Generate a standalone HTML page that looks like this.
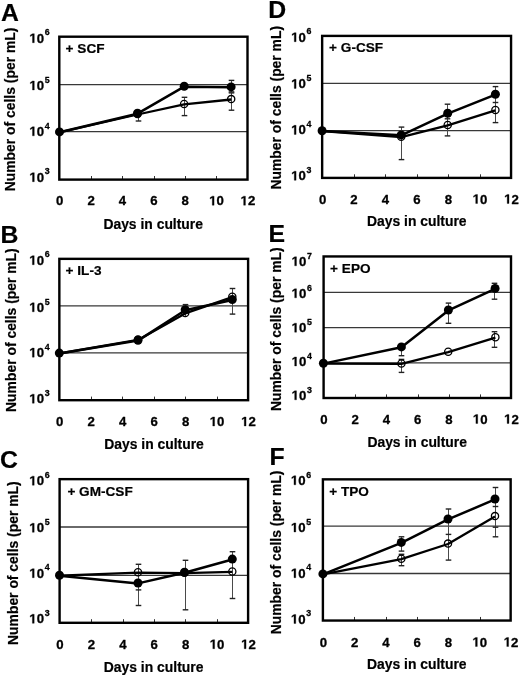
<!DOCTYPE html><html><head><meta charset="utf-8"><style>html,body{margin:0;padding:0;background:#fff;}svg{display:block;filter:grayscale(1) blur(0.4px);} text{stroke:#000;stroke-width:0.2px;stroke-linejoin:round;} text.d{stroke-width:0.3px;}</style></head><body>
<svg width="520" height="676" viewBox="0 0 520 676" font-family='"Liberation Sans", sans-serif' font-weight="bold">
<rect x="0" y="0" width="520" height="676" fill="#fff"/>
<line x1="59.3" y1="84.6" x2="247.5" y2="84.6" stroke="#383838" stroke-width="1.3"/>
<line x1="59.3" y1="131.6" x2="247.5" y2="131.6" stroke="#383838" stroke-width="1.3"/>
<line x1="91.5" y1="179.6" x2="91.5" y2="176" stroke="#333" stroke-width="1"/>
<line x1="122.5" y1="179.6" x2="122.5" y2="176" stroke="#333" stroke-width="1"/>
<line x1="154.5" y1="179.6" x2="154.5" y2="176" stroke="#333" stroke-width="1"/>
<line x1="185.5" y1="179.6" x2="185.5" y2="176" stroke="#333" stroke-width="1"/>
<line x1="216.5" y1="179.6" x2="216.5" y2="176" stroke="#333" stroke-width="1"/>
<line x1="138.5" y1="110.3" x2="138.5" y2="121" stroke="#4a4a4a" stroke-width="1"/>
<line x1="135.7" y1="121" x2="141.3" y2="121" stroke="#222" stroke-width="1.4"/>
<line x1="184.5" y1="97.3" x2="184.5" y2="115.6" stroke="#4a4a4a" stroke-width="1"/>
<line x1="181.7" y1="97.3" x2="187.3" y2="97.3" stroke="#222" stroke-width="1.4"/>
<line x1="181.7" y1="115.6" x2="187.3" y2="115.6" stroke="#222" stroke-width="1.4"/>
<line x1="231.5" y1="80.4" x2="231.5" y2="91.9" stroke="#4a4a4a" stroke-width="1"/>
<line x1="228.7" y1="80.4" x2="234.3" y2="80.4" stroke="#222" stroke-width="1.4"/>
<line x1="228.7" y1="91.9" x2="234.3" y2="91.9" stroke="#222" stroke-width="1.4"/>
<line x1="231.5" y1="92.9" x2="231.5" y2="110.2" stroke="#4a4a4a" stroke-width="1"/>
<line x1="228.7" y1="92.9" x2="234.3" y2="92.9" stroke="#222" stroke-width="1.4"/>
<line x1="228.7" y1="110.2" x2="234.3" y2="110.2" stroke="#222" stroke-width="1.4"/>
<polyline points="59.5,132.3 137.5,114.5 184.1,104.4 231.2,99.5" fill="none" stroke="#000" stroke-width="2.3" stroke-linejoin="round"/>
<polyline points="59.5,132.3 137.5,113.7 184.2,86.7 231.1,87.3" fill="none" stroke="#000" stroke-width="2.5" stroke-linejoin="round"/>
<circle cx="137.5" cy="114.1" r="3.6" fill="none" stroke="#000" stroke-width="1.3"/>
<circle cx="184.1" cy="104" r="3.6" fill="none" stroke="#000" stroke-width="1.3"/>
<circle cx="231.2" cy="99.1" r="3.6" fill="none" stroke="#000" stroke-width="1.3"/>
<circle cx="59.5" cy="131.9" r="4.5" fill="#000"/>
<circle cx="137.5" cy="113.3" r="4.5" fill="#000"/>
<circle cx="184.2" cy="86.3" r="4.5" fill="#000"/>
<circle cx="231.1" cy="86.9" r="4.5" fill="#000"/>
<rect x="59.3" y="36.7" width="188.2" height="142.9" fill="none" stroke="#000" stroke-width="2.4"/>
<path transform="translate(29.4,42.73) scale(0.006445,-0.006445)" d="M478 0H759V1409H493L140 1180V959L478 1170Z" fill="#000" stroke="#000" stroke-width="0.3" vector-effect="non-scaling-stroke" stroke-linejoin="round"/>
<text class="d" x="36.74" y="42.73" font-size="13.2">0<tspan dx="0.7" dy="-7.26" font-size="8.8">6</tspan></text>
<path transform="translate(29.4,90.03) scale(0.006445,-0.006445)" d="M478 0H759V1409H493L140 1180V959L478 1170Z" fill="#000" stroke="#000" stroke-width="0.3" vector-effect="non-scaling-stroke" stroke-linejoin="round"/>
<text class="d" x="36.74" y="90.03" font-size="13.2">0<tspan dx="0.7" dy="-7.26" font-size="8.8">5</tspan></text>
<path transform="translate(29.4,135.83) scale(0.006445,-0.006445)" d="M478 0H759V1409H493L140 1180V959L478 1170Z" fill="#000" stroke="#000" stroke-width="0.3" vector-effect="non-scaling-stroke" stroke-linejoin="round"/>
<text class="d" x="36.74" y="135.83" font-size="13.2">0<tspan dx="0.7" dy="-7.26" font-size="8.8">4</tspan></text>
<path transform="translate(29.4,181.73) scale(0.006445,-0.006445)" d="M478 0H759V1409H493L140 1180V959L478 1170Z" fill="#000" stroke="#000" stroke-width="0.3" vector-effect="non-scaling-stroke" stroke-linejoin="round"/>
<text class="d" x="36.74" y="181.73" font-size="13.2">0<tspan dx="0.7" dy="-7.26" font-size="8.8">3</tspan></text>
<text class="d" x="59.7" y="205.23" font-size="13.2" text-anchor="middle">0</text>
<text class="d" x="91.07" y="205.23" font-size="13.2" text-anchor="middle">2</text>
<text class="d" x="122.43" y="205.23" font-size="13.2" text-anchor="middle">4</text>
<text class="d" x="153.8" y="205.23" font-size="13.2" text-anchor="middle">6</text>
<text class="d" x="185.17" y="205.23" font-size="13.2" text-anchor="middle">8</text>
<path transform="translate(209.19,205.23) scale(0.006445,-0.006445)" d="M478 0H759V1409H493L140 1180V959L478 1170Z" fill="#000" stroke="#000" stroke-width="0.3" vector-effect="non-scaling-stroke" stroke-linejoin="round"/>
<text class="d" x="216.53" y="205.23" font-size="13.2">0</text>
<path transform="translate(240.56,205.23) scale(0.006445,-0.006445)" d="M478 0H759V1409H493L140 1180V959L478 1170Z" fill="#000" stroke="#000" stroke-width="0.3" vector-effect="non-scaling-stroke" stroke-linejoin="round"/>
<text class="d" x="247.9" y="205.23" font-size="13.2">2</text>
<text x="153.2" y="228.6" font-size="13.9" text-anchor="middle">Days in culture</text>
<text transform="translate(15.4,109.45) rotate(-90)" x="0" y="0" font-size="13.9" text-anchor="middle">Number of cells (per mL)</text>
<text x="0.9" y="20.5" font-size="24.8">A</text>
<text x="65.6" y="52.8" font-size="13.6">+ SCF</text>
<line x1="59.35" y1="305.9" x2="248.1" y2="305.9" stroke="#383838" stroke-width="1.3"/>
<line x1="59.35" y1="352.9" x2="248.1" y2="352.9" stroke="#383838" stroke-width="1.3"/>
<line x1="91.5" y1="400.2" x2="91.5" y2="396.6" stroke="#333" stroke-width="1"/>
<line x1="122.5" y1="400.2" x2="122.5" y2="396.6" stroke="#333" stroke-width="1"/>
<line x1="154.5" y1="400.2" x2="154.5" y2="396.6" stroke="#333" stroke-width="1"/>
<line x1="185.5" y1="400.2" x2="185.5" y2="396.6" stroke="#333" stroke-width="1"/>
<line x1="217.5" y1="400.2" x2="217.5" y2="396.6" stroke="#333" stroke-width="1"/>
<line x1="185.5" y1="304.6" x2="185.5" y2="316.3" stroke="#4a4a4a" stroke-width="1"/>
<line x1="182.7" y1="304.6" x2="188.3" y2="304.6" stroke="#222" stroke-width="1.4"/>
<line x1="232.5" y1="288.5" x2="232.5" y2="314.1" stroke="#4a4a4a" stroke-width="1"/>
<line x1="229.7" y1="288.5" x2="235.3" y2="288.5" stroke="#222" stroke-width="1.4"/>
<line x1="229.7" y1="314.1" x2="235.3" y2="314.1" stroke="#222" stroke-width="1.4"/>
<polyline points="59.3,353.5 138,339.9 185.2,313.4 232.3,297.2" fill="none" stroke="#000" stroke-width="2.3" stroke-linejoin="round"/>
<polyline points="59.3,353.5 138,340.6 185.2,310.2 232.3,300" fill="none" stroke="#000" stroke-width="2.5" stroke-linejoin="round"/>
<circle cx="138" cy="339.5" r="3.6" fill="none" stroke="#000" stroke-width="1.3"/>
<circle cx="185.2" cy="313" r="3.6" fill="none" stroke="#000" stroke-width="1.3"/>
<circle cx="232.3" cy="296.8" r="3.6" fill="none" stroke="#000" stroke-width="1.3"/>
<circle cx="59.3" cy="353.1" r="4.5" fill="#000"/>
<circle cx="138" cy="340.2" r="4.5" fill="#000"/>
<circle cx="185.2" cy="309.8" r="4.5" fill="#000"/>
<circle cx="232.3" cy="299.6" r="4.5" fill="#000"/>
<rect x="59.35" y="258.85" width="188.75" height="141.35" fill="none" stroke="#000" stroke-width="2.4"/>
<path transform="translate(29.3,264.73) scale(0.006445,-0.006445)" d="M478 0H759V1409H493L140 1180V959L478 1170Z" fill="#000" stroke="#000" stroke-width="0.3" vector-effect="non-scaling-stroke" stroke-linejoin="round"/>
<text class="d" x="36.64" y="264.73" font-size="13.2">0<tspan dx="0.7" dy="-7.26" font-size="8.8">6</tspan></text>
<path transform="translate(29.3,311.83) scale(0.006445,-0.006445)" d="M478 0H759V1409H493L140 1180V959L478 1170Z" fill="#000" stroke="#000" stroke-width="0.3" vector-effect="non-scaling-stroke" stroke-linejoin="round"/>
<text class="d" x="36.64" y="311.83" font-size="13.2">0<tspan dx="0.7" dy="-7.26" font-size="8.8">5</tspan></text>
<path transform="translate(29.3,357.13) scale(0.006445,-0.006445)" d="M478 0H759V1409H493L140 1180V959L478 1170Z" fill="#000" stroke="#000" stroke-width="0.3" vector-effect="non-scaling-stroke" stroke-linejoin="round"/>
<text class="d" x="36.64" y="357.13" font-size="13.2">0<tspan dx="0.7" dy="-7.26" font-size="8.8">4</tspan></text>
<path transform="translate(29.3,403.23) scale(0.006445,-0.006445)" d="M478 0H759V1409H493L140 1180V959L478 1170Z" fill="#000" stroke="#000" stroke-width="0.3" vector-effect="non-scaling-stroke" stroke-linejoin="round"/>
<text class="d" x="36.64" y="403.23" font-size="13.2">0<tspan dx="0.7" dy="-7.26" font-size="8.8">3</tspan></text>
<text class="d" x="59.75" y="426.03" font-size="13.2" text-anchor="middle">0</text>
<text class="d" x="91.21" y="426.03" font-size="13.2" text-anchor="middle">2</text>
<text class="d" x="122.67" y="426.03" font-size="13.2" text-anchor="middle">4</text>
<text class="d" x="154.12" y="426.03" font-size="13.2" text-anchor="middle">6</text>
<text class="d" x="185.58" y="426.03" font-size="13.2" text-anchor="middle">8</text>
<path transform="translate(209.7,426.03) scale(0.006445,-0.006445)" d="M478 0H759V1409H493L140 1180V959L478 1170Z" fill="#000" stroke="#000" stroke-width="0.3" vector-effect="non-scaling-stroke" stroke-linejoin="round"/>
<text class="d" x="217.04" y="426.03" font-size="13.2">0</text>
<path transform="translate(241.16,426.03) scale(0.006445,-0.006445)" d="M478 0H759V1409H493L140 1180V959L478 1170Z" fill="#000" stroke="#000" stroke-width="0.3" vector-effect="non-scaling-stroke" stroke-linejoin="round"/>
<text class="d" x="248.5" y="426.03" font-size="13.2">2</text>
<text x="154" y="448.9" font-size="13.9" text-anchor="middle">Days in culture</text>
<text transform="translate(16.1,330.1) rotate(-90)" x="0" y="0" font-size="13.9" text-anchor="middle">Number of cells (per mL)</text>
<text x="0.4" y="242.9" font-size="24.8">B</text>
<text x="65.6" y="275.3" font-size="13.6">+ IL-3</text>
<line x1="59.6" y1="527" x2="248.1" y2="527" stroke="#383838" stroke-width="1.3"/>
<line x1="59.6" y1="575.3" x2="248.1" y2="575.3" stroke="#383838" stroke-width="1.3"/>
<line x1="91.5" y1="622.8" x2="91.5" y2="619.2" stroke="#333" stroke-width="1"/>
<line x1="123.5" y1="622.8" x2="123.5" y2="619.2" stroke="#333" stroke-width="1"/>
<line x1="154.5" y1="622.8" x2="154.5" y2="619.2" stroke="#333" stroke-width="1"/>
<line x1="185.5" y1="622.8" x2="185.5" y2="619.2" stroke="#333" stroke-width="1"/>
<line x1="217.5" y1="622.8" x2="217.5" y2="619.2" stroke="#333" stroke-width="1"/>
<line x1="138.5" y1="564.3" x2="138.5" y2="605.5" stroke="#4a4a4a" stroke-width="1"/>
<line x1="135.7" y1="564.3" x2="141.3" y2="564.3" stroke="#222" stroke-width="1.4"/>
<line x1="135.7" y1="589.9" x2="141.3" y2="589.9" stroke="#222" stroke-width="1.4"/>
<line x1="135.7" y1="605.5" x2="141.3" y2="605.5" stroke="#222" stroke-width="1.4"/>
<line x1="185.5" y1="560.3" x2="185.5" y2="609.8" stroke="#4a4a4a" stroke-width="1"/>
<line x1="182.7" y1="560.3" x2="188.3" y2="560.3" stroke="#222" stroke-width="1.4"/>
<line x1="182.7" y1="609.8" x2="188.3" y2="609.8" stroke="#222" stroke-width="1.4"/>
<line x1="232.5" y1="551.7" x2="232.5" y2="598.5" stroke="#4a4a4a" stroke-width="1"/>
<line x1="229.7" y1="551.7" x2="235.3" y2="551.7" stroke="#222" stroke-width="1.4"/>
<line x1="229.7" y1="598.5" x2="235.3" y2="598.5" stroke="#222" stroke-width="1.4"/>
<polyline points="59.5,575.7 138,572.7 184.5,573.2 232.3,571.9" fill="none" stroke="#000" stroke-width="2.3" stroke-linejoin="round"/>
<polyline points="59.5,575.7 138,583.4 184.5,572.7 232.3,559.5" fill="none" stroke="#000" stroke-width="2.5" stroke-linejoin="round"/>
<circle cx="138" cy="572.3" r="3.6" fill="none" stroke="#000" stroke-width="1.3"/>
<circle cx="184.5" cy="572.8" r="3.6" fill="none" stroke="#000" stroke-width="1.3"/>
<circle cx="232.3" cy="571.5" r="3.6" fill="none" stroke="#000" stroke-width="1.3"/>
<circle cx="59.5" cy="575.3" r="4.5" fill="#000"/>
<circle cx="138" cy="583" r="4.5" fill="#000"/>
<circle cx="184.5" cy="572.3" r="4.5" fill="#000"/>
<circle cx="232.3" cy="559.1" r="4.5" fill="#000"/>
<rect x="59.6" y="479.15" width="188.5" height="143.65" fill="none" stroke="#000" stroke-width="2.4"/>
<path transform="translate(29.3,485.23) scale(0.006445,-0.006445)" d="M478 0H759V1409H493L140 1180V959L478 1170Z" fill="#000" stroke="#000" stroke-width="0.3" vector-effect="non-scaling-stroke" stroke-linejoin="round"/>
<text class="d" x="36.64" y="485.23" font-size="13.2">0<tspan dx="0.7" dy="-7.26" font-size="8.8">6</tspan></text>
<path transform="translate(29.3,532.33) scale(0.006445,-0.006445)" d="M478 0H759V1409H493L140 1180V959L478 1170Z" fill="#000" stroke="#000" stroke-width="0.3" vector-effect="non-scaling-stroke" stroke-linejoin="round"/>
<text class="d" x="36.64" y="532.33" font-size="13.2">0<tspan dx="0.7" dy="-7.26" font-size="8.8">5</tspan></text>
<path transform="translate(29.3,577.73) scale(0.006445,-0.006445)" d="M478 0H759V1409H493L140 1180V959L478 1170Z" fill="#000" stroke="#000" stroke-width="0.3" vector-effect="non-scaling-stroke" stroke-linejoin="round"/>
<text class="d" x="36.64" y="577.73" font-size="13.2">0<tspan dx="0.7" dy="-7.26" font-size="8.8">4</tspan></text>
<path transform="translate(29.3,623.33) scale(0.006445,-0.006445)" d="M478 0H759V1409H493L140 1180V959L478 1170Z" fill="#000" stroke="#000" stroke-width="0.3" vector-effect="non-scaling-stroke" stroke-linejoin="round"/>
<text class="d" x="36.64" y="623.33" font-size="13.2">0<tspan dx="0.7" dy="-7.26" font-size="8.8">3</tspan></text>
<text class="d" x="60" y="648.73" font-size="13.2" text-anchor="middle">0</text>
<text class="d" x="91.42" y="648.73" font-size="13.2" text-anchor="middle">2</text>
<text class="d" x="122.83" y="648.73" font-size="13.2" text-anchor="middle">4</text>
<text class="d" x="154.25" y="648.73" font-size="13.2" text-anchor="middle">6</text>
<text class="d" x="185.67" y="648.73" font-size="13.2" text-anchor="middle">8</text>
<path transform="translate(209.74,648.73) scale(0.006445,-0.006445)" d="M478 0H759V1409H493L140 1180V959L478 1170Z" fill="#000" stroke="#000" stroke-width="0.3" vector-effect="non-scaling-stroke" stroke-linejoin="round"/>
<text class="d" x="217.08" y="648.73" font-size="13.2">0</text>
<path transform="translate(241.16,648.73) scale(0.006445,-0.006445)" d="M478 0H759V1409H493L140 1180V959L478 1170Z" fill="#000" stroke="#000" stroke-width="0.3" vector-effect="non-scaling-stroke" stroke-linejoin="round"/>
<text class="d" x="248.5" y="648.73" font-size="13.2">2</text>
<text x="153.6" y="671.6" font-size="13.9" text-anchor="middle">Days in culture</text>
<text transform="translate(17.9,563.15) rotate(-90)" x="0" y="0" font-size="13.9" text-anchor="middle">Number of cells (per mL)</text>
<text x="-0.1" y="468.2" font-size="24.8">C</text>
<text x="67.4" y="496" font-size="13.6">+ GM-CSF</text>
<line x1="322.15" y1="83.4" x2="511.05" y2="83.4" stroke="#383838" stroke-width="1.3"/>
<line x1="322.15" y1="130.7" x2="511.05" y2="130.7" stroke="#383838" stroke-width="1.3"/>
<line x1="354.5" y1="177.9" x2="354.5" y2="174.3" stroke="#333" stroke-width="1"/>
<line x1="385.5" y1="177.9" x2="385.5" y2="174.3" stroke="#333" stroke-width="1"/>
<line x1="417.5" y1="177.9" x2="417.5" y2="174.3" stroke="#333" stroke-width="1"/>
<line x1="448.5" y1="177.9" x2="448.5" y2="174.3" stroke="#333" stroke-width="1"/>
<line x1="480.5" y1="177.9" x2="480.5" y2="174.3" stroke="#333" stroke-width="1"/>
<line x1="401.5" y1="127.1" x2="401.5" y2="159.6" stroke="#4a4a4a" stroke-width="1"/>
<line x1="398.7" y1="127.1" x2="404.3" y2="127.1" stroke="#222" stroke-width="1.4"/>
<line x1="398.7" y1="159.6" x2="404.3" y2="159.6" stroke="#222" stroke-width="1.4"/>
<line x1="447.5" y1="104.2" x2="447.5" y2="135.9" stroke="#4a4a4a" stroke-width="1"/>
<line x1="444.7" y1="104.2" x2="450.3" y2="104.2" stroke="#222" stroke-width="1.4"/>
<line x1="444.7" y1="118.8" x2="450.3" y2="118.8" stroke="#222" stroke-width="1.4"/>
<line x1="444.7" y1="135.9" x2="450.3" y2="135.9" stroke="#222" stroke-width="1.4"/>
<line x1="495.5" y1="86.6" x2="495.5" y2="122.6" stroke="#4a4a4a" stroke-width="1"/>
<line x1="492.7" y1="86.6" x2="498.3" y2="86.6" stroke="#222" stroke-width="1.4"/>
<line x1="492.7" y1="102.5" x2="498.3" y2="102.5" stroke="#222" stroke-width="1.4"/>
<line x1="492.7" y1="122.6" x2="498.3" y2="122.6" stroke="#222" stroke-width="1.4"/>
<polyline points="322.1,131.1 401.2,137.2 447.7,125.4 495.4,110.3" fill="none" stroke="#000" stroke-width="2.3" stroke-linejoin="round"/>
<polyline points="322.1,131.1 401.2,135.3 447.7,113.6 495.4,94.7" fill="none" stroke="#000" stroke-width="2.5" stroke-linejoin="round"/>
<circle cx="401.2" cy="136.8" r="3.6" fill="none" stroke="#000" stroke-width="1.3"/>
<circle cx="447.7" cy="125" r="3.6" fill="none" stroke="#000" stroke-width="1.3"/>
<circle cx="495.4" cy="109.9" r="3.6" fill="none" stroke="#000" stroke-width="1.3"/>
<circle cx="322.1" cy="130.7" r="4.5" fill="#000"/>
<circle cx="401.2" cy="134.9" r="4.5" fill="#000"/>
<circle cx="447.7" cy="113.2" r="4.5" fill="#000"/>
<circle cx="495.4" cy="94.3" r="4.5" fill="#000"/>
<rect x="322.15" y="35.9" width="188.9" height="142" fill="none" stroke="#000" stroke-width="2.4"/>
<path transform="translate(291.2,41.73) scale(0.006445,-0.006445)" d="M478 0H759V1409H493L140 1180V959L478 1170Z" fill="#000" stroke="#000" stroke-width="0.3" vector-effect="non-scaling-stroke" stroke-linejoin="round"/>
<text class="d" x="298.54" y="41.73" font-size="13.2">0<tspan dx="0.7" dy="-7.26" font-size="8.8">6</tspan></text>
<path transform="translate(291.2,88.43) scale(0.006445,-0.006445)" d="M478 0H759V1409H493L140 1180V959L478 1170Z" fill="#000" stroke="#000" stroke-width="0.3" vector-effect="non-scaling-stroke" stroke-linejoin="round"/>
<text class="d" x="298.54" y="88.43" font-size="13.2">0<tspan dx="0.7" dy="-7.26" font-size="8.8">5</tspan></text>
<path transform="translate(291.2,134.43) scale(0.006445,-0.006445)" d="M478 0H759V1409H493L140 1180V959L478 1170Z" fill="#000" stroke="#000" stroke-width="0.3" vector-effect="non-scaling-stroke" stroke-linejoin="round"/>
<text class="d" x="298.54" y="134.43" font-size="13.2">0<tspan dx="0.7" dy="-7.26" font-size="8.8">4</tspan></text>
<path transform="translate(291.2,180.33) scale(0.006445,-0.006445)" d="M478 0H759V1409H493L140 1180V959L478 1170Z" fill="#000" stroke="#000" stroke-width="0.3" vector-effect="non-scaling-stroke" stroke-linejoin="round"/>
<text class="d" x="298.54" y="180.33" font-size="13.2">0<tspan dx="0.7" dy="-7.26" font-size="8.8">3</tspan></text>
<text class="d" x="322.55" y="203.53" font-size="13.2" text-anchor="middle">0</text>
<text class="d" x="354.03" y="203.53" font-size="13.2" text-anchor="middle">2</text>
<text class="d" x="385.52" y="203.53" font-size="13.2" text-anchor="middle">4</text>
<text class="d" x="417" y="203.53" font-size="13.2" text-anchor="middle">6</text>
<text class="d" x="448.48" y="203.53" font-size="13.2" text-anchor="middle">8</text>
<path transform="translate(472.63,203.53) scale(0.006445,-0.006445)" d="M478 0H759V1409H493L140 1180V959L478 1170Z" fill="#000" stroke="#000" stroke-width="0.3" vector-effect="non-scaling-stroke" stroke-linejoin="round"/>
<text class="d" x="479.97" y="203.53" font-size="13.2">0</text>
<path transform="translate(504.11,203.53) scale(0.006445,-0.006445)" d="M478 0H759V1409H493L140 1180V959L478 1170Z" fill="#000" stroke="#000" stroke-width="0.3" vector-effect="non-scaling-stroke" stroke-linejoin="round"/>
<text class="d" x="511.45" y="203.53" font-size="13.2">2</text>
<text x="416.8" y="226.2" font-size="13.9" text-anchor="middle">Days in culture</text>
<text transform="translate(281.4,107.75) rotate(-90)" x="0" y="0" font-size="13.9" text-anchor="middle">Number of cells (per mL)</text>
<text x="268.2" y="18.2" font-size="24.8">D</text>
<text x="329.1" y="52.4" font-size="13.6">+ G-CSF</text>
<line x1="323.6" y1="292.3" x2="511" y2="292.3" stroke="#383838" stroke-width="1.3"/>
<line x1="323.6" y1="327.7" x2="511" y2="327.7" stroke="#383838" stroke-width="1.3"/>
<line x1="323.6" y1="362.9" x2="511" y2="362.9" stroke="#383838" stroke-width="1.3"/>
<line x1="355.5" y1="398" x2="355.5" y2="394.4" stroke="#333" stroke-width="1"/>
<line x1="386.5" y1="398" x2="386.5" y2="394.4" stroke="#333" stroke-width="1"/>
<line x1="418.5" y1="398" x2="418.5" y2="394.4" stroke="#333" stroke-width="1"/>
<line x1="449.5" y1="398" x2="449.5" y2="394.4" stroke="#333" stroke-width="1"/>
<line x1="480.5" y1="398" x2="480.5" y2="394.4" stroke="#333" stroke-width="1"/>
<line x1="401.5" y1="346.8" x2="401.5" y2="355.7" stroke="#4a4a4a" stroke-width="1"/>
<line x1="398.7" y1="355.7" x2="404.3" y2="355.7" stroke="#222" stroke-width="1.4"/>
<line x1="401.5" y1="359.4" x2="401.5" y2="372.4" stroke="#4a4a4a" stroke-width="1"/>
<line x1="398.7" y1="359.4" x2="404.3" y2="359.4" stroke="#222" stroke-width="1.4"/>
<line x1="398.7" y1="372.4" x2="404.3" y2="372.4" stroke="#222" stroke-width="1.4"/>
<line x1="448.5" y1="303.1" x2="448.5" y2="323.3" stroke="#4a4a4a" stroke-width="1"/>
<line x1="445.7" y1="303.1" x2="451.3" y2="303.1" stroke="#222" stroke-width="1.4"/>
<line x1="445.7" y1="323.3" x2="451.3" y2="323.3" stroke="#222" stroke-width="1.4"/>
<line x1="494.5" y1="283.3" x2="494.5" y2="299.2" stroke="#4a4a4a" stroke-width="1"/>
<line x1="491.7" y1="283.3" x2="497.3" y2="283.3" stroke="#222" stroke-width="1.4"/>
<line x1="491.7" y1="299.2" x2="497.3" y2="299.2" stroke="#222" stroke-width="1.4"/>
<line x1="494.5" y1="331.7" x2="494.5" y2="347.3" stroke="#4a4a4a" stroke-width="1"/>
<line x1="491.7" y1="331.7" x2="497.3" y2="331.7" stroke="#222" stroke-width="1.4"/>
<line x1="491.7" y1="347.3" x2="497.3" y2="347.3" stroke="#222" stroke-width="1.4"/>
<polyline points="323.4,363.6 401.4,363.9 448.2,352.1 495.4,337.7" fill="none" stroke="#000" stroke-width="2.3" stroke-linejoin="round"/>
<polyline points="323.4,363.6 401.4,347.3 448.4,310.4 495.1,288.8" fill="none" stroke="#000" stroke-width="2.5" stroke-linejoin="round"/>
<circle cx="401.4" cy="363.5" r="3.6" fill="none" stroke="#000" stroke-width="1.3"/>
<circle cx="448.2" cy="351.7" r="3.6" fill="none" stroke="#000" stroke-width="1.3"/>
<circle cx="495.4" cy="337.3" r="3.6" fill="none" stroke="#000" stroke-width="1.3"/>
<circle cx="323.4" cy="363.2" r="4.5" fill="#000"/>
<circle cx="401.4" cy="346.9" r="4.5" fill="#000"/>
<circle cx="448.4" cy="310" r="4.5" fill="#000"/>
<circle cx="495.1" cy="288.4" r="4.5" fill="#000"/>
<rect x="323.6" y="256.45" width="187.4" height="141.55" fill="none" stroke="#000" stroke-width="2.4"/>
<path transform="translate(291.6,265.83) scale(0.006445,-0.006445)" d="M478 0H759V1409H493L140 1180V959L478 1170Z" fill="#000" stroke="#000" stroke-width="0.3" vector-effect="non-scaling-stroke" stroke-linejoin="round"/>
<text class="d" x="298.94" y="265.83" font-size="13.2">0<tspan dx="0.7" dy="-7.26" font-size="8.8">7</tspan></text>
<path transform="translate(291.6,297.83) scale(0.006445,-0.006445)" d="M478 0H759V1409H493L140 1180V959L478 1170Z" fill="#000" stroke="#000" stroke-width="0.3" vector-effect="non-scaling-stroke" stroke-linejoin="round"/>
<text class="d" x="298.94" y="297.83" font-size="13.2">0<tspan dx="0.7" dy="-7.26" font-size="8.8">6</tspan></text>
<path transform="translate(291.6,332.23) scale(0.006445,-0.006445)" d="M478 0H759V1409H493L140 1180V959L478 1170Z" fill="#000" stroke="#000" stroke-width="0.3" vector-effect="non-scaling-stroke" stroke-linejoin="round"/>
<text class="d" x="298.94" y="332.23" font-size="13.2">0<tspan dx="0.7" dy="-7.26" font-size="8.8">5</tspan></text>
<path transform="translate(291.6,366.03) scale(0.006445,-0.006445)" d="M478 0H759V1409H493L140 1180V959L478 1170Z" fill="#000" stroke="#000" stroke-width="0.3" vector-effect="non-scaling-stroke" stroke-linejoin="round"/>
<text class="d" x="298.94" y="366.03" font-size="13.2">0<tspan dx="0.7" dy="-7.26" font-size="8.8">4</tspan></text>
<path transform="translate(291.6,399.83) scale(0.006445,-0.006445)" d="M478 0H759V1409H493L140 1180V959L478 1170Z" fill="#000" stroke="#000" stroke-width="0.3" vector-effect="non-scaling-stroke" stroke-linejoin="round"/>
<text class="d" x="298.94" y="399.83" font-size="13.2">0<tspan dx="0.7" dy="-7.26" font-size="8.8">3</tspan></text>
<text class="d" x="324" y="423.53" font-size="13.2" text-anchor="middle">0</text>
<text class="d" x="355.23" y="423.53" font-size="13.2" text-anchor="middle">2</text>
<text class="d" x="386.47" y="423.53" font-size="13.2" text-anchor="middle">4</text>
<text class="d" x="417.7" y="423.53" font-size="13.2" text-anchor="middle">6</text>
<text class="d" x="448.93" y="423.53" font-size="13.2" text-anchor="middle">8</text>
<path transform="translate(472.83,423.53) scale(0.006445,-0.006445)" d="M478 0H759V1409H493L140 1180V959L478 1170Z" fill="#000" stroke="#000" stroke-width="0.3" vector-effect="non-scaling-stroke" stroke-linejoin="round"/>
<text class="d" x="480.17" y="423.53" font-size="13.2">0</text>
<path transform="translate(504.06,423.53) scale(0.006445,-0.006445)" d="M478 0H759V1409H493L140 1180V959L478 1170Z" fill="#000" stroke="#000" stroke-width="0.3" vector-effect="non-scaling-stroke" stroke-linejoin="round"/>
<text class="d" x="511.4" y="423.53" font-size="13.2">2</text>
<text x="417.2" y="446.9" font-size="13.9" text-anchor="middle">Days in culture</text>
<text transform="translate(280.9,329.2) rotate(-90)" x="0" y="0" font-size="13.9" text-anchor="middle">Number of cells (per mL)</text>
<text x="268.5" y="242.1" font-size="24.8">E</text>
<text x="330.1" y="272.8" font-size="13.6">+ EPO</text>
<line x1="322.9" y1="526.2" x2="510.65" y2="526.2" stroke="#383838" stroke-width="1.3"/>
<line x1="322.9" y1="573.5" x2="510.65" y2="573.5" stroke="#383838" stroke-width="1.3"/>
<line x1="354.5" y1="620.55" x2="354.5" y2="616.95" stroke="#333" stroke-width="1"/>
<line x1="386.5" y1="620.55" x2="386.5" y2="616.95" stroke="#333" stroke-width="1"/>
<line x1="417.5" y1="620.55" x2="417.5" y2="616.95" stroke="#333" stroke-width="1"/>
<line x1="448.5" y1="620.55" x2="448.5" y2="616.95" stroke="#333" stroke-width="1"/>
<line x1="480.5" y1="620.55" x2="480.5" y2="616.95" stroke="#333" stroke-width="1"/>
<line x1="401.5" y1="536.8" x2="401.5" y2="551.1" stroke="#4a4a4a" stroke-width="1"/>
<line x1="398.7" y1="536.8" x2="404.3" y2="536.8" stroke="#222" stroke-width="1.4"/>
<line x1="398.7" y1="551.1" x2="404.3" y2="551.1" stroke="#222" stroke-width="1.4"/>
<line x1="401.5" y1="554.3" x2="401.5" y2="565.7" stroke="#4a4a4a" stroke-width="1"/>
<line x1="398.7" y1="554.3" x2="404.3" y2="554.3" stroke="#222" stroke-width="1.4"/>
<line x1="398.7" y1="565.7" x2="404.3" y2="565.7" stroke="#222" stroke-width="1.4"/>
<line x1="448.5" y1="509" x2="448.5" y2="560.1" stroke="#4a4a4a" stroke-width="1"/>
<line x1="445.7" y1="509" x2="451.3" y2="509" stroke="#222" stroke-width="1.4"/>
<line x1="445.7" y1="534.4" x2="451.3" y2="534.4" stroke="#222" stroke-width="1.4"/>
<line x1="445.7" y1="560.1" x2="451.3" y2="560.1" stroke="#222" stroke-width="1.4"/>
<line x1="495.5" y1="487.5" x2="495.5" y2="536.8" stroke="#4a4a4a" stroke-width="1"/>
<line x1="492.7" y1="487.5" x2="498.3" y2="487.5" stroke="#222" stroke-width="1.4"/>
<line x1="492.7" y1="506.5" x2="498.3" y2="506.5" stroke="#222" stroke-width="1.4"/>
<line x1="492.7" y1="527.2" x2="498.3" y2="527.2" stroke="#222" stroke-width="1.4"/>
<line x1="492.7" y1="536.8" x2="498.3" y2="536.8" stroke="#222" stroke-width="1.4"/>
<polyline points="322.9,574.3 401.3,559.1 448,544 495,516.5" fill="none" stroke="#000" stroke-width="2.3" stroke-linejoin="round"/>
<polyline points="322.9,574.3 401.3,542.8 448,519.45 495,499.45" fill="none" stroke="#000" stroke-width="2.5" stroke-linejoin="round"/>
<circle cx="401.3" cy="558.7" r="3.6" fill="none" stroke="#000" stroke-width="1.3"/>
<circle cx="448" cy="543.6" r="3.6" fill="none" stroke="#000" stroke-width="1.3"/>
<circle cx="495" cy="516.1" r="3.6" fill="none" stroke="#000" stroke-width="1.3"/>
<circle cx="322.9" cy="573.9" r="4.5" fill="#000"/>
<circle cx="401.3" cy="542.4" r="4.5" fill="#000"/>
<circle cx="448" cy="519.05" r="4.5" fill="#000"/>
<circle cx="495" cy="499.05" r="4.5" fill="#000"/>
<rect x="322.9" y="479.35" width="187.75" height="141.2" fill="none" stroke="#000" stroke-width="2.4"/>
<path transform="translate(290.9,484.83) scale(0.006445,-0.006445)" d="M478 0H759V1409H493L140 1180V959L478 1170Z" fill="#000" stroke="#000" stroke-width="0.3" vector-effect="non-scaling-stroke" stroke-linejoin="round"/>
<text class="d" x="298.24" y="484.83" font-size="13.2">0<tspan dx="0.7" dy="-7.26" font-size="8.8">6</tspan></text>
<path transform="translate(290.9,532.03) scale(0.006445,-0.006445)" d="M478 0H759V1409H493L140 1180V959L478 1170Z" fill="#000" stroke="#000" stroke-width="0.3" vector-effect="non-scaling-stroke" stroke-linejoin="round"/>
<text class="d" x="298.24" y="532.03" font-size="13.2">0<tspan dx="0.7" dy="-7.26" font-size="8.8">5</tspan></text>
<path transform="translate(290.9,577.73) scale(0.006445,-0.006445)" d="M478 0H759V1409H493L140 1180V959L478 1170Z" fill="#000" stroke="#000" stroke-width="0.3" vector-effect="non-scaling-stroke" stroke-linejoin="round"/>
<text class="d" x="298.24" y="577.73" font-size="13.2">0<tspan dx="0.7" dy="-7.26" font-size="8.8">4</tspan></text>
<path transform="translate(290.9,623.53) scale(0.006445,-0.006445)" d="M478 0H759V1409H493L140 1180V959L478 1170Z" fill="#000" stroke="#000" stroke-width="0.3" vector-effect="non-scaling-stroke" stroke-linejoin="round"/>
<text class="d" x="298.24" y="623.53" font-size="13.2">0<tspan dx="0.7" dy="-7.26" font-size="8.8">3</tspan></text>
<text class="d" x="323.3" y="646.53" font-size="13.2" text-anchor="middle">0</text>
<text class="d" x="354.59" y="646.53" font-size="13.2" text-anchor="middle">2</text>
<text class="d" x="385.88" y="646.53" font-size="13.2" text-anchor="middle">4</text>
<text class="d" x="417.17" y="646.53" font-size="13.2" text-anchor="middle">6</text>
<text class="d" x="448.47" y="646.53" font-size="13.2" text-anchor="middle">8</text>
<path transform="translate(472.42,646.53) scale(0.006445,-0.006445)" d="M478 0H759V1409H493L140 1180V959L478 1170Z" fill="#000" stroke="#000" stroke-width="0.3" vector-effect="non-scaling-stroke" stroke-linejoin="round"/>
<text class="d" x="479.76" y="646.53" font-size="13.2">0</text>
<path transform="translate(503.71,646.53) scale(0.006445,-0.006445)" d="M478 0H759V1409H493L140 1180V959L478 1170Z" fill="#000" stroke="#000" stroke-width="0.3" vector-effect="non-scaling-stroke" stroke-linejoin="round"/>
<text class="d" x="511.05" y="646.53" font-size="13.2">2</text>
<text x="416.8" y="669.3" font-size="13.9" text-anchor="middle">Days in culture</text>
<text transform="translate(280.9,552.45) rotate(-90)" x="0" y="0" font-size="13.9" text-anchor="middle">Number of cells (per mL)</text>
<text x="269.4" y="464.6" font-size="24.8">F</text>
<text x="329.2" y="495.5" font-size="13.6">+ TPO</text>
</svg></body></html>
